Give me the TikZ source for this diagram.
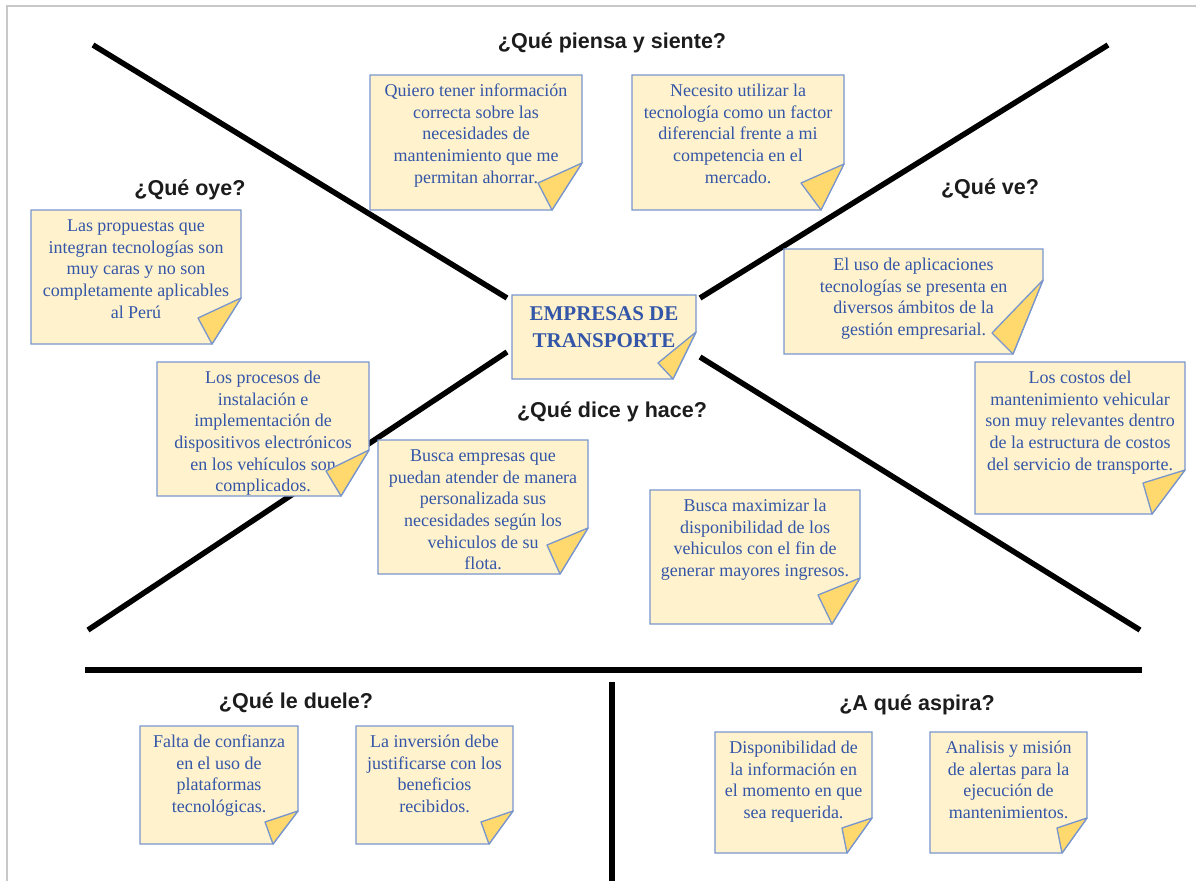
\documentclass[tikz,border=0pt]{standalone}
\usepackage{fontspec}
\setmainfont{Liberation Serif}
\newfontfamily\labelfont{Liberation Sans}
\definecolor{noteFill}{RGB}{255,242,204}
\definecolor{noteLine}{RGB}{120,150,205}
\definecolor{foldFill}{RGB}{255,217,110}
\definecolor{noteInk}{RGB}{52,86,168}
\definecolor{labelInk}{RGB}{28,28,28}
\definecolor{frameGray}{RGB}{200,200,200}
\tikzset{
  notebox/.style={fill=noteFill, draw=noteLine, line width=1.3pt, line join=miter},
  foldbox/.style={fill=foldFill, draw=noteLine, line width=1.3pt, line join=round},
  notetext/.style={text=noteInk, align=center, inner sep=0pt, anchor=north,
    font=\fontsize{18}{21.7}\selectfont},
  centertext/.style={text=noteInk, align=center, inner sep=0pt, anchor=north,
    font=\bfseries\fontsize{21}{27}\selectfont},
  qlabel/.style={text=labelInk, anchor=base, inner sep=0pt,
    font={\labelfont\bfseries\fontsize{21.5}{24}\selectfont}},
  bar/.style={line width=5.5pt, black},
  framestyle/.style={draw=frameGray, line width=1.5pt}
}
% #1 name, #2 x0, #3 y0, #4 x1, #5 y1, #6 yA, #7 xB, #8 "xC,yC", #9 text
\newcommand{\stickynote}[9]{%
  \filldraw[notebox] (#2,#3) -- (#4,#3) -- (#4,#6) -- (#7,#5) -- (#2,#5) -- cycle;
  \node[notetext] (#1) at ({(#2+#4)/2},{#3+6}) {\strut #9};
  \filldraw[foldbox] (#4,#6) -- (#8) -- (#7,#5) -- cycle;
}
\begin{document}
\begin{tikzpicture}[x=1pt,y=-1pt]
\useasboundingbox (0,0) rectangle (1196,881);
% frame
\draw[framestyle] (7,881) -- (7,6) -- (1196,6);
% diagonal bars
\coordinate (tlA) at (93,45);   \coordinate (tlB) at (507,298);
\coordinate (trA) at (1108,45); \coordinate (trB) at (700,298);
\coordinate (blA) at (507,352); \coordinate (blB) at (88,630);
\coordinate (brA) at (700,357); \coordinate (brB) at (1140,630);
\draw[bar] (tlA) -- (tlB);
\draw[bar] (trA) -- (trB);
\draw[bar] (blA) -- (blB);
\draw[bar] (brA) -- (brB);
% horizontal and vertical separators
\coordinate (hA) at (85,670);  \coordinate (hB) at (1142,670);
\coordinate (vA) at (612,682); \coordinate (vB) at (612,881);
\draw[bar] (hA) -- (hB);
\draw[bar] (vA) -- (vB);
% labels
\node[qlabel] (lpiensa) at (612,48.5) {¿Qué piensa y siente?};
\node[qlabel] (loye) at (190,195.5) {¿Qué oye?};
\node[qlabel] (lve) at (990,194.5) {¿Qué ve?};
\node[qlabel] (ldice) at (612,417) {¿Qué dice y hace?};
\node[qlabel] (lduele) at (296,708) {¿Qué le duele?};
\node[qlabel] (laspira) at (917,710) {¿A qué aspira?};
% notes
\stickynote{n1}{370}{75}{582}{210}{163}{552}{538,183}{Quiero tener información\\correcta sobre las\\necesidades de\\mantenimiento que me\\permitan ahorrar.}
\stickynote{n2}{632}{75}{844}{210}{164}{821}{801,183}{Necesito utilizar la\\tecnología como un factor\\diferencial frente a mi\\competencia en el\\mercado.}
\stickynote{n3}{31}{210}{241}{344}{298}{212}{198,318}{Las propuestas que\\integran tecnologías son\\muy caras y no son\\completamente aplicables\\al Perú}
\stickynote{n4}{157}{362}{369}{496}{450}{341}{326,471}{Los procesos de\\instalación e\\implementación de\\dispositivos electrónicos\\en los vehículos son\\complicados.}
\stickynote{n6}{378}{440}{588}{574}{528}{560}{547,545}{Busca empresas que\\puedan atender de manera\\personalizada sus\\necesidades según los\\vehiculos de su\\flota.}
\stickynote{n7}{650}{490}{860}{624}{578}{832}{818,595}{Busca maximizar la\\disponibilidad de los\\vehiculos con el fin de\\generar mayores ingresos.}
\stickynote{n8}{784}{249}{1043}{354}{280}{1013}{992,333}{El uso de aplicaciones\\tecnologías se presenta en\\diversos ámbitos de la\\gestión empresarial.}
\stickynote{n9}{975}{362}{1185}{514}{470}{1152}{1143,483}{Los costos del\\mantenimiento vehicular\\son muy relevantes dentro\\de la estructura de costos\\del servicio de transporte.}
\stickynote{n10}{140}{726}{298}{844}{811}{273}{265,822}{Falta de confianza\\en el uso de\\plataformas\\tecnológicas.}
\stickynote{n11}{356}{726}{513}{844}{811}{489}{481,822}{La inversión debe\\justificarse con los\\beneficios\\recibidos.}
\stickynote{n12}{715}{732}{872}{853}{818}{847}{842,828}{Disponibilidad de\\la información en\\el momento en que\\sea requerida.}
\stickynote{n13}{930}{732}{1087}{853}{818}{1062}{1057,828}{Analisis y misión\\de alertas para la\\ejecución de\\mantenimientos.}
% centre note
\filldraw[notebox] (512,295) -- (696,295) -- (696,332) -- (673,379) -- (512,379) -- cycle;
\node[centertext] (centre) at (604,301) {\strut EMPRESAS DE\\TRANSPORTE};
\filldraw[foldbox] (696,332) -- (658,363) -- (673,379) -- cycle;
\end{tikzpicture}
\end{document}
